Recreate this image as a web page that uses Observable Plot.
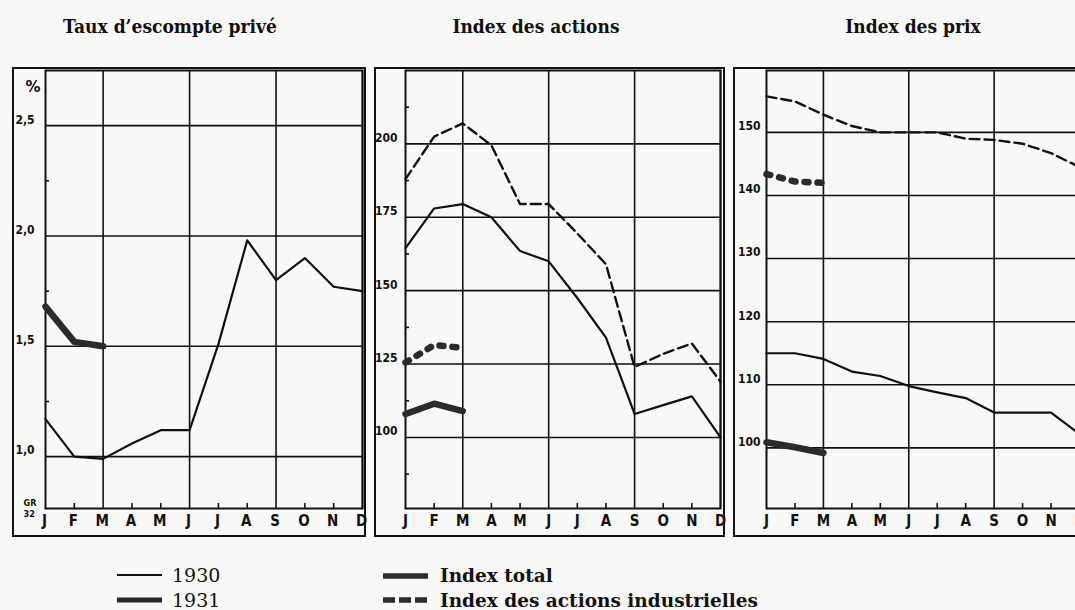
<!DOCTYPE html>
<html><head><meta charset="utf-8">
<script src="https://cdn.jsdelivr.net/npm/d3@7"></script>
<script src="https://cdn.jsdelivr.net/npm/@observablehq/plot@0.6"></script>
<style>
html,body{margin:0;padding:0;background:#f8f8f6;overflow:hidden;width:1075px;height:610px}
#root{position:relative;width:1075px;height:610px;overflow:hidden;color:#111}
.title{position:absolute;top:15px;font-family:"DejaVu Serif Condensed","DejaVu Serif",serif;font-stretch:condensed;font-weight:bold;font-size:19px;white-space:nowrap;transform:translateX(-50%)}
.panel{position:absolute;top:67px;border:2px solid #111}
.panel svg{display:block;max-width:none!important}
.leg{position:absolute;font-family:"DejaVu Serif",serif;font-size:19px;white-space:nowrap;line-height:1}
.leg.b{font-weight:bold;font-size:18.5px}
.sw{position:absolute}
</style>
</head><body><div id="root"></div>
<script>
// ---- data ----
const months = ["J","F","M","A","M","J","J","A","S","O","N","D"];
const titles = ["Taux d\u2019escompte privé", "Index des actions", "Index des prix"];
const legendYears = ["1930", "1931"];
const legendSeries = ["Index total", "Index des actions industrielles"];

// Taux d'escompte privé (%)
const escompte1930 = [1.17, 1.00, 0.99, 1.06, 1.12, 1.12, 1.51, 1.98, 1.80, 1.90, 1.77, 1.75];
const escompte1931 = [1.68, 1.52, 1.50];
const escompteTicks = [1.0, 1.5, 2.0, 2.5];
const escompteMinor = [1.25, 1.75, 2.25];

// Index des actions
const actionsTotal1930 = [164.5, 178, 179.5, 175, 163.5, 160, 147.5, 134, 108, 111, 114, 100];
const actionsIndus1930 = [188, 202.5, 207, 199.5, 179.5, 179.5, 169.5, 159, 124, 128.5, 132, 119];
const actionsTotal1931 = [108, 111.5, 109];
const actionsIndus1931 = [125.5, 131.5, 130.5];
const actionsTicks = [100, 125, 150, 175, 200];
const actionsMinor = [87.5, 112.5, 137.5, 162.5, 187.5, 212.5];

// Index des prix
const prixTotal1930 = [115.0, 115.0, 114.1, 112.1, 111.4, 109.8, 108.8, 107.9, 105.6, 105.6, 105.6, 102.2];
const prixIndus1930 = [155.7, 154.9, 152.8, 151.0, 150.0, 150.0, 150.0, 149.0, 148.8, 148.2, 146.7, 144.5];
const prixTotal1931 = [100.9, 100.1, 99.2];
const prixIndus1931 = [143.4, 142.2, 142.0];
const prixTicks = [100, 110, 120, 130, 140, 150];
const prixMinor = [];

const gridMonths = [2, 5, 8, 11];
const minorMonths = [1, 3, 4, 6, 7, 9, 10];

// ---- drawing ----
const INK = "#111";
const toRows = arr => arr.map((v, i) => ({m: i, v}));
const styles = {
  thin: {stroke: INK, strokeWidth: 2.2},
  thinDash: {stroke: INK, strokeWidth: 2.4, strokeDasharray: "10,5"},
  thick: {stroke: "#2b2b2b", strokeWidth: 6.5, strokeLinecap: "round"},
  thickDash: {stroke: "#2b2b2b", strokeWidth: 6.5, strokeDasharray: "4,9", strokeLinecap: "round"}
};
const SANS = "DejaVu Sans Condensed, DejaVu Sans, sans-serif";

function panel(cfg) {
  const plotW = cfg.width - cfg.ml - cfg.mr;
  const plotH = cfg.height - cfg.mt - cfg.mb;
  const marks = [
    Plot.gridY({ticks: cfg.ticks, stroke: INK, strokeOpacity: 1, strokeWidth: 1.6}),
    Plot.gridX({ticks: gridMonths, stroke: INK, strokeOpacity: 1, strokeWidth: 1.6}),
    Plot.frame({stroke: INK, strokeWidth: 2}),
    Plot.tickX(minorMonths, {x: d => d, stroke: INK, strokeWidth: 1.6, insetTop: plotH - 5}),
    Plot.tickY(cfg.minor, {y: d => d, stroke: INK, strokeWidth: 1.6, insetRight: plotW - 4}),
    Plot.axisX({ticks: d3.range(12), tickFormat: i => months[i], tickSize: 0, tickPadding: 7,
      label: null, fontSize: 15, fontWeight: "bold", fontFamily: SANS, fill: INK, dx: cfg.mdx || 0}),
    Plot.axisY({ticks: cfg.ticks, tickFormat: cfg.fmt, tickSize: 0, tickPadding: cfg.pad, dy: -6,
      label: null, fontSize: 12, fontWeight: "bold", fontFamily: SANS, fill: INK}),
    ...cfg.series.map(s => Plot.line(toRows(s.values), {x: "m", y: "v", ...styles[s.style]})),
    ...(cfg.extra || [])
  ];
  return Plot.plot({
    width: cfg.width, height: cfg.height,
    marginLeft: cfg.ml, marginRight: cfg.mr, marginTop: cfg.mt, marginBottom: cfg.mb,
    x: {domain: [0, 11], axis: null, label: null},
    y: {domain: cfg.domain, axis: null, label: null},
    style: {background: "transparent", overflow: "visible", color: INK},
    marks
  });
}

const root = document.getElementById("root");
function place(node, left, w, h) {
  const d = document.createElement("div");
  d.className = "panel";
  d.style.left = left + "px";
  d.style.width = w + "px";
  d.style.height = h + "px";
  d.appendChild(node);
  root.appendChild(d);
}

const H = 466;
const p1 = panel({
  width: 350, height: H, ml: 31, mr: 2, mt: 1, mb: 27, mdx: -1,
  domain: [0.765, 2.75], ticks: escompteTicks, minor: escompteMinor, pad: 11,
  fmt: d => d.toFixed(1).replace(".", ","),
  series: [{values: escompte1930, style: "thin"}, {values: escompte1931, style: "thick"}],
  extra: [
    Plot.text(["%"], {text: d => d, frameAnchor: "top-left", dx: -20, dy: 11, fontSize: 15, fontWeight: "bold", fontFamily: "DejaVu Sans", fill: INK}),
    Plot.text(["GR"], {text: d => d, frameAnchor: "bottom-left", dx: -22, dy: -3, fontSize: 9, fontWeight: "bold", fontFamily: SANS, fill: INK}),
    Plot.text(["32"], {text: d => d, frameAnchor: "bottom-left", dx: -22, dy: 8, fontSize: 9, fontWeight: "bold", fontFamily: SANS, fill: INK})
  ]
});
place(p1, 12, 350, H);

const p2 = panel({
  width: 347, height: H, ml: 29, mr: 3, mt: 1, mb: 27,
  domain: [75.8, 225], ticks: actionsTicks, minor: actionsMinor, pad: 8,
  fmt: d => String(d),
  series: [
    {values: actionsTotal1930, style: "thin"}, {values: actionsIndus1930, style: "thinDash"},
    {values: actionsTotal1931, style: "thick"}, {values: actionsIndus1931, style: "thickDash"}
  ]
});
place(p2, 374, 347, H);

const p3 = panel({
  width: 346, height: H, ml: 31, mr: 2, mt: 1, mb: 27,
  domain: [90.4, 159.8], ticks: prixTicks, minor: prixMinor, pad: 6,
  fmt: d => String(d),
  series: [
    {values: prixTotal1930, style: "thin"}, {values: prixIndus1930, style: "thinDash"},
    {values: prixTotal1931, style: "thick"}, {values: prixIndus1931, style: "thickDash"}
  ]
});
place(p3, 733, 346, H);

// titles
const titleX = [170, 536, 913];
titles.forEach((t, i) => {
  const d = document.createElement("div");
  d.className = "title";
  d.style.left = titleX[i] + "px";
  d.textContent = t;
  root.appendChild(d);
});

// legend
function swatch(left, top, style) {
  const s = d3.create("svg").attr("class", "sw").attr("width", 50).attr("height", 12)
    .style("left", left + "px").style("top", top + "px");
  s.append("line").attr("x1", 1).attr("x2", 46).attr("y1", 6).attr("y2", 6)
    .attr("stroke", style.stroke).attr("stroke-width", style.w)
    .attr("stroke-dasharray", style.dash || null);
  root.appendChild(s.node());
}
function label(left, top, text, cls) {
  const d = document.createElement("div");
  d.className = "leg" + (cls ? " " + cls : "");
  d.style.left = left + "px";
  d.style.top = top + "px";
  d.textContent = text;
  root.appendChild(d);
}
swatch(116, 569, {stroke: INK, w: 2});
label(172, 566, legendYears[0]);
swatch(116, 594, {stroke: "#2b2b2b", w: 5});
label(172, 591, legendYears[1]);
swatch(382, 570, {stroke: "#2b2b2b", w: 5.5});
label(440, 567, legendSeries[0], "b");
swatch(382, 594, {stroke: "#2b2b2b", w: 5.5, dash: "12,4"});
label(440, 592, legendSeries[1], "b");
</script>
</body></html>
